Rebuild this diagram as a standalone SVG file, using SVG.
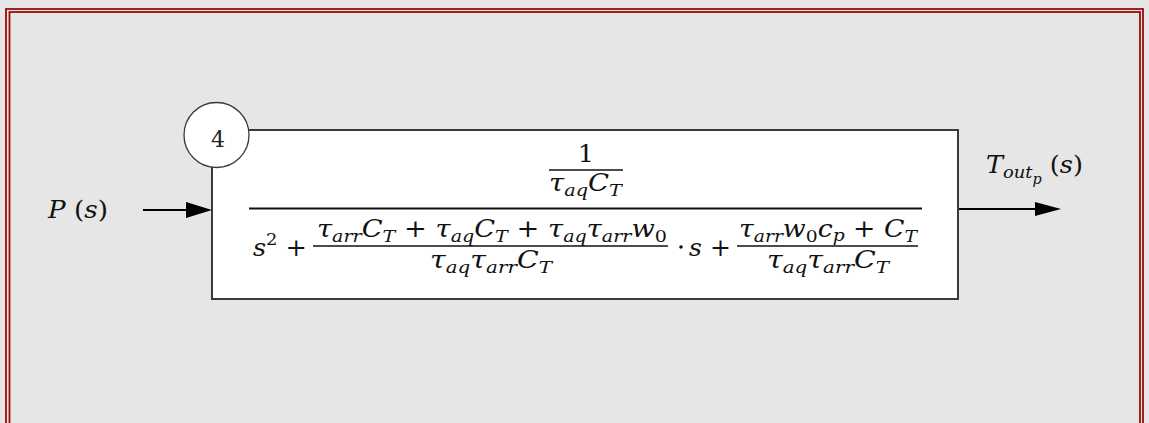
<svg xmlns="http://www.w3.org/2000/svg" width="1149" height="423" viewBox="0 0 1149 423">
  <defs>
    <style>
      .bg { fill: #e6e6e6; }
      .frame { fill: none; stroke: #990a0a; stroke-width: 1.8; }
      .block { fill: #ffffff; stroke: #3a3a3a; stroke-width: 2; }
      .badge { fill: #ffffff; stroke: #3a3a3a; stroke-width: 1.3; }
      .m { font-family: "DejaVu Serif", "Liberation Serif", serif; font-style: italic; font-size: 25px; fill: #111; }
      .up { font-style: normal; }
      .sb { font-size: 17.5px; }
      .bar { stroke: #111; }
      .wire { stroke: #000; stroke-width: 2.2; fill: none; }
      .head { fill: #000; }
      .num { font-family: "DejaVu Serif", "Liberation Serif", serif; font-size: 22px; fill: #222; }
    </style>
  </defs>

  <rect class="bg" x="0" y="0" width="1149" height="423"/>

  <g id="frame">
    <rect class="frame" x="6" y="9" width="1137" height="440"/>
    <rect class="frame" x="9.5" y="12" width="1130.5" height="440"/>
  </g>

  <g id="connectors">
    <line class="wire" x1="143" y1="210" x2="190" y2="210"/>
    <polygon class="head" points="186,202 212,210 186,218"/>
    <line class="wire" x1="958" y1="209" x2="1038" y2="209"/>
    <polygon class="head" points="1035,202 1061,209 1035,216"/>
  </g>

  <g id="input-label">
    <text class="m" x="48" y="218" textLength="60" lengthAdjust="spacingAndGlyphs">P <tspan class="up">(</tspan>s<tspan class="up">)</tspan></text>
  </g>

  <g id="output-label">
    <text class="m" x="986" y="173" textLength="97" lengthAdjust="spacingAndGlyphs">T<tspan class="sb" dy="5">out</tspan><tspan font-size="14" dy="6">p</tspan><tspan dy="-11"> </tspan><tspan class="up">(</tspan>s<tspan class="up">)</tspan></text>
  </g>

  <g id="transfer-block">
    <rect class="block" x="212" y="130" width="746" height="169"/>
    <!-- main fraction -->
    <text class="m up" x="586" y="162" text-anchor="middle">1</text>
    <line class="bar" x1="549" y1="170" x2="623" y2="170" stroke-width="1.6"/>
    <text class="m" x="549" y="191" textLength="73" lengthAdjust="spacingAndGlyphs">τ<tspan class="sb" dy="5">aq</tspan><tspan dy="-5">C</tspan><tspan class="sb" dy="5">T</tspan></text>
    <line class="bar" x1="249" y1="208.5" x2="922" y2="208.5" stroke-width="2"/>

    <!-- denominator -->
    <text class="m" x="253" y="256" textLength="54" lengthAdjust="spacingAndGlyphs">s<tspan class="sb up" dy="-11">2</tspan><tspan class="up" dy="11"> +</tspan></text>

    <text class="m" x="317" y="237" textLength="350" lengthAdjust="spacingAndGlyphs">τ<tspan class="sb" dy="5">arr</tspan><tspan dy="-5">C</tspan><tspan class="sb" dy="5">T</tspan><tspan class="up" dy="-5"> + </tspan>τ<tspan class="sb" dy="5">aq</tspan><tspan dy="-5">C</tspan><tspan class="sb" dy="5">T</tspan><tspan class="up" dy="-5"> + </tspan>τ<tspan class="sb" dy="5">aq</tspan><tspan dy="-5">τ</tspan><tspan class="sb" dy="5">arr</tspan><tspan dy="-5">w</tspan><tspan class="sb up" dy="5">0</tspan></text>
    <line class="bar" x1="313" y1="246" x2="668" y2="246" stroke-width="1.6"/>
    <text class="m" x="430" y="268" textLength="122" lengthAdjust="spacingAndGlyphs">τ<tspan class="sb" dy="5">aq</tspan><tspan dy="-5">τ</tspan><tspan class="sb" dy="5">arr</tspan><tspan dy="-5">C</tspan><tspan class="sb" dy="5">T</tspan></text>

    <circle cx="681" cy="247" r="1.8" fill="#111"/>
    <text class="m" x="689" y="256">s</text>
    <text class="m up" x="710" y="256">+</text>

    <text class="m" x="739" y="237" textLength="178" lengthAdjust="spacingAndGlyphs">τ<tspan class="sb" dy="5">arr</tspan><tspan dy="-5">w</tspan><tspan class="sb up" dy="5">0</tspan><tspan dy="-5">c</tspan><tspan class="sb" dy="4">p</tspan><tspan class="up" dy="-4"> + </tspan>C<tspan class="sb" dy="5">T</tspan></text>
    <line class="bar" x1="737" y1="246" x2="918" y2="246" stroke-width="1.6"/>
    <text class="m" x="767" y="268" textLength="122" lengthAdjust="spacingAndGlyphs">τ<tspan class="sb" dy="5">aq</tspan><tspan dy="-5">τ</tspan><tspan class="sb" dy="5">arr</tspan><tspan dy="-5">C</tspan><tspan class="sb" dy="5">T</tspan></text>
  </g>

  <g id="block-number">
    <circle class="badge" cx="216.5" cy="135" r="32.5"/>
    <text class="num" x="218" y="147" text-anchor="middle">4</text>
  </g>
</svg>
